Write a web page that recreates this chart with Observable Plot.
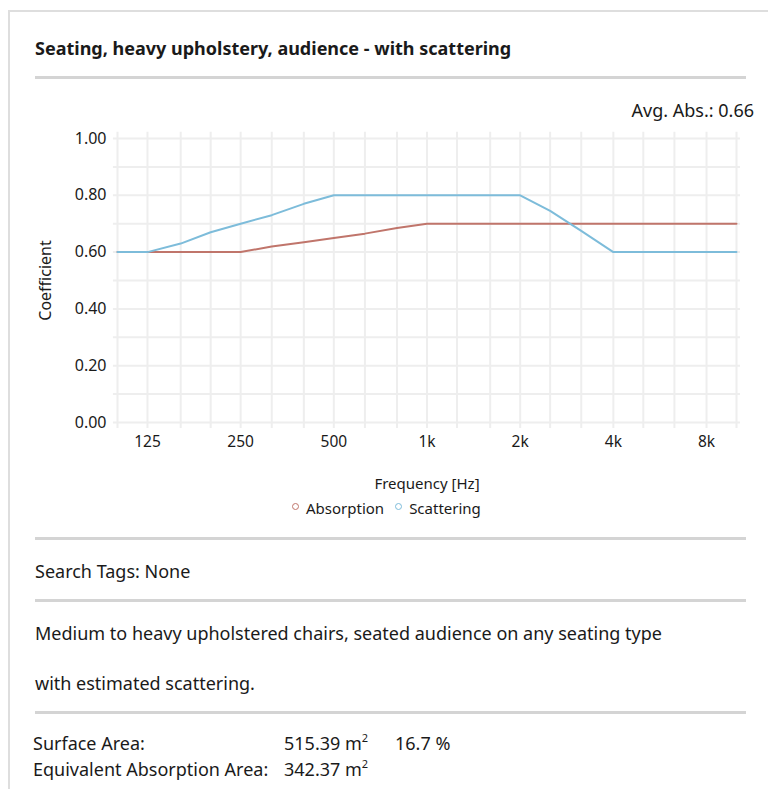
<!DOCTYPE html>
<html>
<head>
<meta charset="utf-8">
<script src="https://cdn.jsdelivr.net/npm/d3@7"></script>
<script src="https://cdn.jsdelivr.net/npm/@observablehq/plot@0.6"></script>
<style>
  html, body { margin: 0; padding: 0; background: #fff; }
  body { width: 768px; height: 789px; position: relative; overflow: hidden;
         font-family: "Noto Sans", "Open Sans", sans-serif; color: #1a1a1a; }
  .abs { position: absolute; white-space: nowrap; line-height: 24px; }
  .frame { position: absolute; left: 8px; top: 10px; width: 800px; height: 800px;
           border-top: 2px solid #dedede; border-left: 2px solid #dedede; }
  .rule { position: absolute; left: 35px; width: 711px; height: 3px; background: #d4d4d4; }
  .title { left: 35px; top: 36px; font-size: 18px; font-weight: 700; }
  .txt { font-size: 18px; }
  sup { font-size: 11px; vertical-align: 8px; line-height: 0; }
  #chart { position: absolute; left: 0; top: 120px; }
  .legend { top: 496px; left: 292px; font-size: 15px; }
  .legend span.sw { display: inline-block; width: 5px; height: 5px; border-radius: 50%;
                    border: 1.6px solid; vertical-align: 4px; margin-right: 7px; }
</style>
</head>
<body>
<div class="frame"></div>
<div class="abs title" id="title"></div>
<div class="rule" style="top:76px"></div>
<div class="abs txt" id="avg" style="right:14px; top:98px;"></div>
<div id="chart"></div>
<div class="abs legend" id="legend"></div>
<div class="rule" style="top:537px"></div>
<div class="abs txt" id="tags" style="left:35px; top:559px;"></div>
<div class="rule" style="top:599px"></div>
<div class="abs txt" id="desc1" style="left:35px; top:621px;"></div>
<div class="abs txt" id="desc2" style="left:35px; top:671px;"></div>
<div class="rule" style="top:711px"></div>
<div class="abs txt" style="left:33px; top:731px;">Surface Area:</div>
<div class="abs txt" style="left:284px; top:731px;" id="sa"></div>
<div class="abs txt" style="left:395px; top:731px;" id="pct"></div>
<div class="abs txt" style="left:33px; top:757px;">Equivalent Absorption Area:</div>
<div class="abs txt" style="left:284px; top:757px;" id="eaa"></div>
<script>
// ---- data ----
const titleText = "Seating, heavy upholstery, audience - with scattering";
const avgAbs = 0.66;
const frequencies = [100, 125, 160, 200, 250, 315, 400, 500, 630, 800, 1000, 1250, 1600, 2000, 2500, 3150, 4000, 5000, 6300, 8000, 10000];
const absorption  = [0.60, 0.60, 0.60, 0.60, 0.60, 0.62, 0.635, 0.65, 0.665, 0.685, 0.70, 0.70, 0.70, 0.70, 0.70, 0.70, 0.70, 0.70, 0.70, 0.70, 0.70];
const scattering  = [0.60, 0.60, 0.63, 0.67, 0.70, 0.73, 0.77, 0.80, 0.80, 0.80, 0.80, 0.80, 0.80, 0.80, 0.745, 0.675, 0.60, 0.60, 0.60, 0.60, 0.60];
const xTickValues = [125, 250, 500, 1000, 2000, 4000, 8000];
const xTickLabels = ["125", "250", "500", "1k", "2k", "4k", "8k"];
const yTickValues = [0, 0.2, 0.4, 0.6, 0.8, 1.0];
const yGridValues = [0, 0.1, 0.2, 0.3, 0.4, 0.5, 0.6, 0.7, 0.8, 0.9, 1.0];
const seriesNames = ["Absorption", "Scattering"];
const seriesColors = ["#c0756b", "#7dbcda"];
const searchTags = "None";
const descLine1 = "Medium to heavy upholstered chairs, seated audience on any seating type";
const descLine2 = "with estimated scattering.";
const surfaceArea = "515.39";
const surfacePct = "16.7 %";
const eqAbsArea = "342.37";

// ---- text ----
document.getElementById("title").textContent = titleText;
document.getElementById("avg").textContent = "Avg. Abs.: " + avgAbs.toFixed(2);
document.getElementById("tags").textContent = "Search Tags: " + searchTags;
document.getElementById("desc1").textContent = descLine1;
document.getElementById("desc2").textContent = descLine2;
document.getElementById("sa").innerHTML = surfaceArea + " m<sup>2</sup>";
document.getElementById("pct").textContent = surfacePct;
document.getElementById("eaa").innerHTML = eqAbsArea + " m<sup>2</sup>";
document.getElementById("legend").innerHTML = seriesNames.map((n, i) =>
  `<span class="sw" style="border-color:${seriesColors[i]}"></span>${n}`).join('<span style="display:inline-block;width:11px"></span>');

// ---- chart ----
const rows = [];
seriesNames.forEach((s, si) => {
  const vals = si === 0 ? absorption : scattering;
  frequencies.forEach((f, i) => rows.push({series: s, freq: f, value: vals[i]}));
});

const chart = Plot.plot({
  width: 768,
  height: 380,
  marginLeft: 117,
  marginRight: 32,
  marginTop: 18,
  marginBottom: 78,
  x: {type: "log", domain: [100, 10000]},
  y: {domain: [0, 1]},
  color: {domain: seriesNames, range: seriesColors},
  style: {fontFamily: "'Noto Sans', 'Open Sans', sans-serif", fontSize: "15px", color: "#1a1a1a", background: "transparent", overflow: "visible"},
  marks: [
    Plot.ruleX(frequencies, {x: d => d, y1: -0.021, y2: 1.022, stroke: "#eeeeee", strokeWidth: 2}),
    Plot.ruleY(yGridValues, {y: d => d, x1: 97, x2: 10300, stroke: "#eeeeee", strokeWidth: 2}),
    Plot.line(rows, {x: "freq", y: "value", z: "series", stroke: "series", strokeWidth: 2}),
    Plot.text(xTickValues, {x: d => d, text: (d, i) => xTickLabels[i], frameAnchor: "bottom", dy: 24, fontSize: 15.5, fill: "#1a1a1a"}),
    Plot.axisX({ticks: [], tickSize: 0, label: "Frequency [Hz]", labelAnchor: "center", labelOffset: 66, labelArrow: "none"}),
    Plot.axisY(yTickValues, {tickFormat: d3.format(".2f"), tickSize: 0, tickPadding: 11,
                label: "Coefficient", labelAnchor: "center", labelOffset: 78, labelArrow: "none", fontSize: 16})
  ]
});
document.getElementById("chart").appendChild(chart);
</script>
</body>
</html>
